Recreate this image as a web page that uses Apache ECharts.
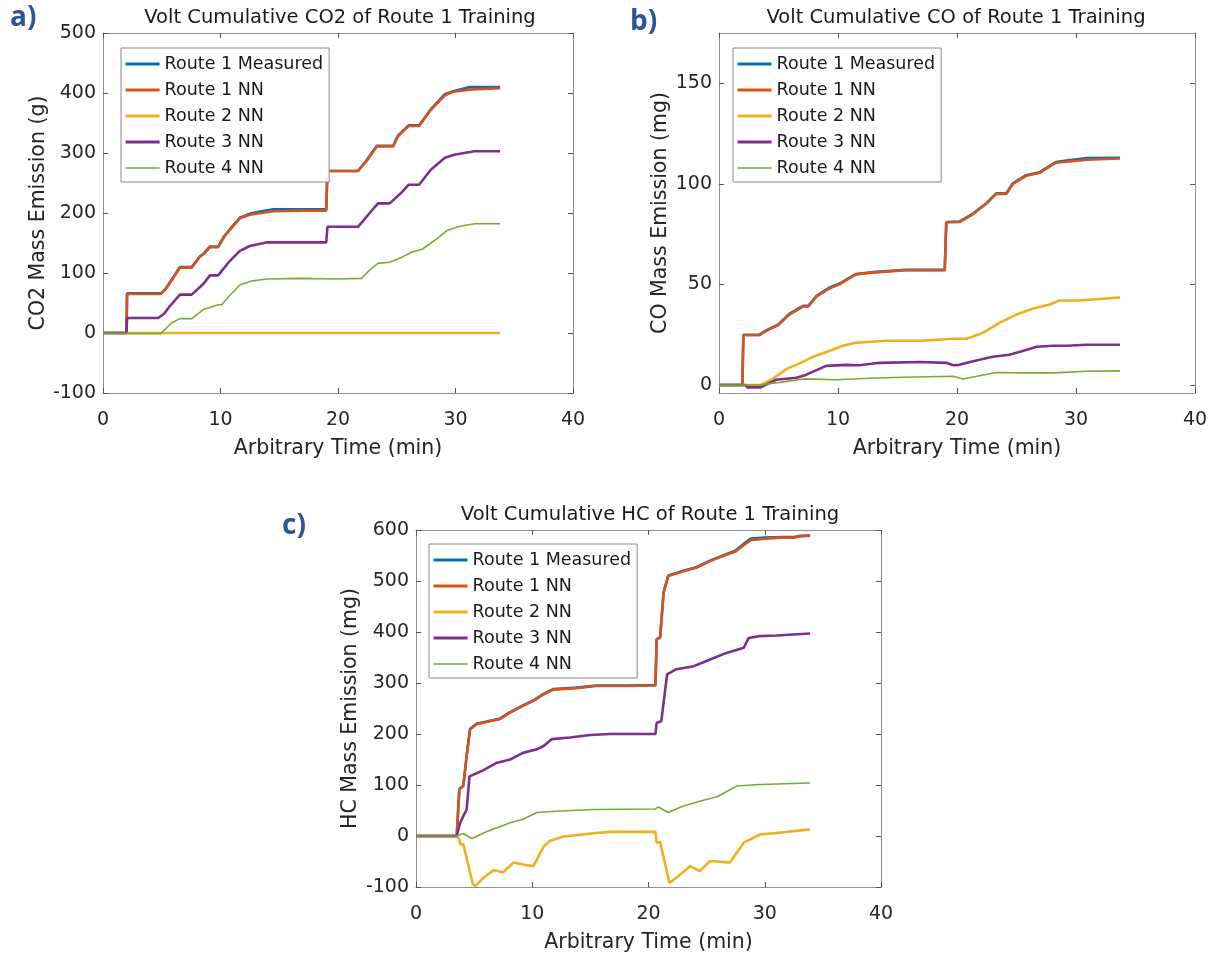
<!DOCTYPE html>
<html>
<head>
<meta charset="utf-8">
<script src="https://cdn.jsdelivr.net/npm/echarts@6/dist/echarts.min.js"></script>
<style>
  html, body { margin: 0; padding: 0; background: #fff; }
  #chart { width: 1212px; height: 957px; }
</style>
</head>
<body>
<div id="chart"></div>
<script>
// Series names, in drawing order
const seriesNames = ['Route 1 Measured', 'Route 1 NN', 'Route 2 NN', 'Route 3 NN', 'Route 4 NN'];
const seriesColors = ['#0072BD', '#D95319', '#EDB120', '#7E2F8E', '#77AC30'];
const seriesWidths = [2.6, 2.6, 2.6, 2.6, 1.6];

// Time axis ticks (min)
const timeTicks = [0, 10, 20, 30, 40];

// (a) cumulative CO2, g  — [time (min), mass]
const co2Measured = [[0,0],[2.0,0],[2.05,66],[4.9,66],[5.3,73],[5.85,89],[6.55,110],[7.55,110],[8.25,128],[8.6,133],[9.1,144],[9.8,144],[10.3,161],[10.8,173],[11.65,192],[12.5,199],[13.5,203],[14.5,206],[17,206],[19.0,206],[19.1,270],[21.7,270],[22.4,287],[23.3,312],[24.7,312],[25.1,329],[26.0,346],[26.9,346],[27.9,373],[29.1,398],[29.8,403],[31.2,410],[33.8,410]];
const co2Route1NN = [[0,0],[2.0,0],[2.05,65],[4.9,65],[5.3,72],[5.85,88],[6.55,109],[7.55,109],[8.25,127],[8.6,132],[9.1,143],[9.8,143],[10.3,160],[10.8,172],[11.65,191],[12.5,197],[13.5,200],[14.5,203],[17,204],[19.0,204],[19.1,270],[21.7,270],[22.4,286],[23.3,311],[24.7,311],[25.1,328],[26.0,345],[26.9,345],[27.9,372],[29.1,396],[29.8,402],[31.4,406],[33.8,408]];
const co2Route2NN = [[0,0],[33.8,0]];
const co2Route3NN = [[0,0],[2.0,0],[2.05,25],[4.7,25],[5.2,32],[5.7,45],[6.55,64],[7.55,64],[8.55,82],[9.1,96],[9.8,96],[10.7,118],[11.65,137],[12.5,145],[13.9,151],[19.0,151],[19.1,177],[21.7,177],[22.7,200],[23.4,216],[24.4,216],[25.4,234],[26.0,247],[26.9,247],[27.9,272],[29.1,292],[29.9,297],[31.6,303],[33.8,303]];
const co2Route4NN = [[0,0],[3,-1],[4.9,-1],[5.85,17],[6.55,24],[7.55,24],[8.55,39],[9.8,47],[10.1,47],[10.8,63],[11.65,80],[12.5,86],[13.9,90],[16.9,91],[19.8,90],[22.0,91],[22.7,105],[23.4,116],[24.4,118],[25.4,126],[26.3,135],[27.2,140],[28.4,157],[29.3,171],[30.2,177],[31.6,182],[33.8,182]];

// (b) cumulative CO, mg
const coMeasured = [[0,0],[1.96,0],[2.05,25],[3.4,25],[4.0,27.3],[4.96,30],[5.9,35.3],[7.06,39.3],[7.5,39.3],[8.2,44.3],[9.3,48.5],[10.1,50.3],[11.5,55.2],[13.2,56.3],[15.7,57.2],[18.97,57.2],[19.1,81],[20.2,81.2],[21.35,85.2],[22.5,90.5],[23.3,95.3],[24.15,95.3],[24.7,100.3],[25.8,104.3],[26.95,105.8],[28.3,110.8],[29.2,111.6],[30.9,112.8],[33.7,113]];
const coRoute1NN = [[0,0],[1.96,0],[2.05,24.7],[3.4,24.7],[4.0,27],[4.96,29.6],[5.9,35],[7.06,39],[7.5,39],[8.2,44],[9.3,48],[10.1,50],[11.5,55],[13.2,56],[15.7,57],[18.97,57],[19.1,80.9],[20.2,81],[21.35,85],[22.5,90.3],[23.3,95],[24.15,95],[24.7,100],[25.8,104],[26.95,105.5],[28.3,110.5],[29.2,111],[30.9,112],[33.7,112.6]];
const coRoute2NN = [[0,0],[3.5,0],[4.5,3],[5.7,8],[6.5,10],[7.9,14],[9.3,17],[10.4,19.5],[11.5,21],[14.1,22],[16.9,22],[19.7,23],[20.8,23],[22.2,26],[23.6,31],[25.0,35],[26.4,38],[27.8,40],[28.6,42],[30.3,42],[33.7,43.5]];
const coRoute3NN = [[0,0],[2.2,0],[2.4,-1.2],[3.5,-1.2],[4.8,2.6],[6.5,3.6],[7.3,5],[9.0,9.5],[10.7,10],[11.8,9.8],[13.5,11],[16.9,11.4],[19.1,11],[19.7,9.8],[20.2,10],[21.35,11.8],[23.0,14],[24.4,15],[25.3,16.5],[26.7,19],[28.1,19.5],[29.2,19.5],[30.9,20],[33.7,20]];
const coRoute4NN = [[0,0],[3.4,0],[5.1,1.3],[7.1,3],[9.9,2.6],[12.7,3.3],[15.5,3.8],[19.7,4.3],[20.5,3],[21.9,4.6],[23.3,6.2],[25.3,6],[28.1,6],[30.9,6.8],[33.7,7]];

// (c) cumulative HC, mg
const hcMeasured = [[0,0],[3.5,0],[3.73,92],[4.07,99],[4.36,158],[4.65,210],[5.2,220],[6.36,226],[7.2,230],[8.1,243],[9.2,256],[10.1,266],[11.0,279],[11.8,288],[13.8,291],[15.5,295],[18.1,295],[20.6,296],[20.7,386],[21.0,390],[21.3,478],[21.7,511],[23.0,520],[24.1,527],[25.3,540],[26.4,550],[27.5,560],[28.3,575],[28.8,583],[30.0,585],[31.5,586],[32.5,586],[33.0,588],[33.9,589]];
const hcRoute1NN = [[0,0],[3.5,0],[3.73,91],[4.07,98],[4.36,157],[4.65,209],[5.2,219],[6.36,225],[7.2,229],[8.1,242],[9.2,255],[10.1,265],[11.0,278],[11.8,287],[13.8,290],[15.5,294],[18.1,294],[20.6,295],[20.7,385],[21.0,389],[21.3,477],[21.7,510],[23.0,519],[24.1,526],[25.3,539],[26.4,549],[27.5,558],[28.3,572],[28.8,580],[30.0,583],[31.5,585],[32.5,585],[33.0,588],[33.9,589]];
const hcRoute2NN = [[0,0],[3.5,0],[3.73,-7],[3.8,-16],[4.07,-16],[4.9,-95],[5.1,-98],[5.8,-82],[6.7,-67],[7.5,-71],[8.4,-52],[9.2,-56],[10.1,-59],[11.0,-20],[11.5,-10],[12.7,-1],[15.5,6],[16.7,8],[20.6,8],[20.7,-13],[21.0,-12],[21.8,-92],[22.4,-82],[23.6,-59],[24.4,-69],[25.3,-49],[27.0,-52],[28.2,-13],[29.6,3],[31.0,6],[33.9,13]];
const hcRoute3NN = [[0,0],[3.5,0],[3.8,26],[4.07,39],[4.36,52],[4.6,117],[5.8,129],[6.9,143],[8.1,150],[9.2,163],[10.4,170],[11.0,177],[11.7,190],[13.25,193],[14.97,198],[16.7,200],[20.6,200],[20.7,222],[21.1,225],[21.6,317],[22.4,327],[23.9,333],[25.3,346],[26.7,359],[28.2,369],[28.6,388],[29.6,392],[31.0,393],[33.9,397]];
const hcRoute4NN = [[0,0],[3.5,0],[4.07,5],[4.8,-5],[6.1,9],[8.1,26],[9.2,33],[10.4,46],[12.4,49],[15.3,52],[20.6,53],[20.85,57],[21.7,46],[23.0,59],[24.4,68],[25.9,77],[27.6,98],[29.6,101],[33.9,104]];

// Y-axis ticks per panel
const co2Ticks = [-100, 0, 100, 200, 300, 400, 500];
const coTicks = [0, 50, 100, 150];
const hcTicks = [-100, 0, 100, 200, 300, 400, 500, 600];

const FONT = '"DejaVu Sans", Arial, Helvetica, sans-serif';
const TEXT = '#262626';
const BOX = '#8f8f8f';

const panels = [
  {
    label: 'a)', title: 'Volt Cumulative CO2 of Route 1 Training', yName: 'CO2 Mass Emission (g)',
    grid: { left: 103, top: 33, width: 470, height: 360 },
    yMin: -100, yMax: 500, yTicks: co2Ticks, yNameGap: 52,
    legend: { left: 121, top: 48 },
    labelPos: [10, 4], titlePos: [340, 18],
    data: [co2Measured, co2Route1NN, co2Route2NN, co2Route3NN, co2Route4NN]
  },
  {
    label: 'b)', title: 'Volt Cumulative CO of Route 1 Training', yName: 'CO Mass Emission (mg)',
    grid: { left: 719, top: 33, width: 476, height: 360 },
    yMin: -4, yMax: 175, yTicks: coTicks, yNameGap: 48,
    legend: { left: 733, top: 48 },
    labelPos: [630, 8], titlePos: [956, 18],
    data: [coMeasured, coRoute1NN, coRoute2NN, coRoute3NN, coRoute4NN]
  },
  {
    label: 'c)', title: 'Volt Cumulative HC of Route 1 Training', yName: 'HC Mass Emission (mg)',
    grid: { left: 416, top: 530, width: 465, height: 357 },
    yMin: -100, yMax: 600, yTicks: hcTicks, yNameGap: 55,
    legend: { left: 429, top: 544 },
    labelPos: [282, 512], titlePos: [650, 515],
    data: [hcMeasured, hcRoute1NN, hcRoute2NN, hcRoute3NN, hcRoute4NN]
  }
];

const grids = [], xAxes = [], yAxes = [], series = [], legends = [], graphics = [];

panels.forEach((p, i) => {
  grids.push(Object.assign({ containLabel: false }, p.grid));
  const tickStyle = { show: true, inside: true, length: 5, lineStyle: { color: '#555' } };
  const lineStyle = { show: true, onZero: false, lineStyle: { color: BOX, width: 1 } };
  // bottom and top time axes (top one closes the box)
  xAxes.push({
    type: 'value', gridIndex: i, min: 0, max: 40, position: 'bottom',
    axisLine: lineStyle, splitLine: { show: false },
    axisTick: Object.assign({ customValues: timeTicks }, tickStyle),
    axisLabel: { customValues: timeTicks, color: TEXT, fontFamily: FONT, fontSize: 19, margin: 18 },
    name: 'Arbitrary Time (min)', nameLocation: 'middle', nameGap: 45,
    nameTextStyle: { color: TEXT, fontFamily: FONT, fontSize: 20.5 }
  });
  xAxes.push({
    type: 'value', gridIndex: i, min: 0, max: 40, position: 'top',
    axisLine: lineStyle, splitLine: { show: false },
    axisTick: Object.assign({ customValues: timeTicks }, tickStyle),
    axisLabel: { show: false }
  });
  // left and right mass axes
  yAxes.push({
    type: 'value', gridIndex: i, min: p.yMin, max: p.yMax, position: 'left',
    axisLine: lineStyle, splitLine: { show: false },
    axisTick: Object.assign({ customValues: p.yTicks }, tickStyle),
    axisLabel: { customValues: p.yTicks, color: TEXT, fontFamily: FONT, fontSize: 19, margin: 7 },
    name: p.yName, nameLocation: 'middle', nameGap: p.yNameGap,
    nameTextStyle: { color: TEXT, fontFamily: FONT, fontSize: 20.5 }
  });
  yAxes.push({
    type: 'value', gridIndex: i, min: p.yMin, max: p.yMax, position: 'right',
    axisLine: lineStyle, splitLine: { show: false },
    axisTick: Object.assign({ customValues: p.yTicks }, tickStyle),
    axisLabel: { show: false }
  });

  p.data.forEach((d, k) => {
    series.push({
      type: 'line', name: seriesNames[k], data: d,
      xAxisIndex: 2 * i, yAxisIndex: 2 * i,
      symbol: 'none', smooth: false, animation: false,
      color: seriesColors[k],
      lineStyle: { color: seriesColors[k], width: seriesWidths[k] }
    });
  });

  legends.push({
    data: seriesNames.map((n, k) => ({
      name: n, lineStyle: { width: k === 4 ? 1.5 : 3.2 }
    })),
    orient: 'vertical', left: p.legend.left, top: p.legend.top,
    backgroundColor: '#fff', borderColor: '#8a8a8a', borderWidth: 1,
    padding: [7, 6, 5, 3], itemGap: 8, itemWidth: 34, itemHeight: 14,
    selectedMode: false,
    itemStyle: { opacity: 0 },
    textStyle: { color: '#1a1a1a', fontFamily: FONT, fontSize: 17.5 }
  });

  graphics.push({
    type: 'text', left: p.labelPos[0], top: p.labelPos[1],
    style: { text: p.label, fill: '#2e5597', font: 'bold 28px "Open Sans", "Noto Sans", sans-serif' }
  });
  graphics.push({
    type: 'text', x: p.titlePos[0], y: p.titlePos[1],
    style: { text: p.title, fill: '#1a1a1a', font: '19.5px ' + FONT, textAlign: 'center', textVerticalAlign: 'middle' }
  });
});

const chart = echarts.init(document.getElementById('chart'), null, { renderer: 'canvas' });
chart.setOption({
  backgroundColor: '#fff',
  animation: false,
  grid: grids,
  xAxis: xAxes,
  yAxis: yAxes,
  legend: legends,
  series: series,
  graphic: graphics
});
</script>
</body>
</html>
